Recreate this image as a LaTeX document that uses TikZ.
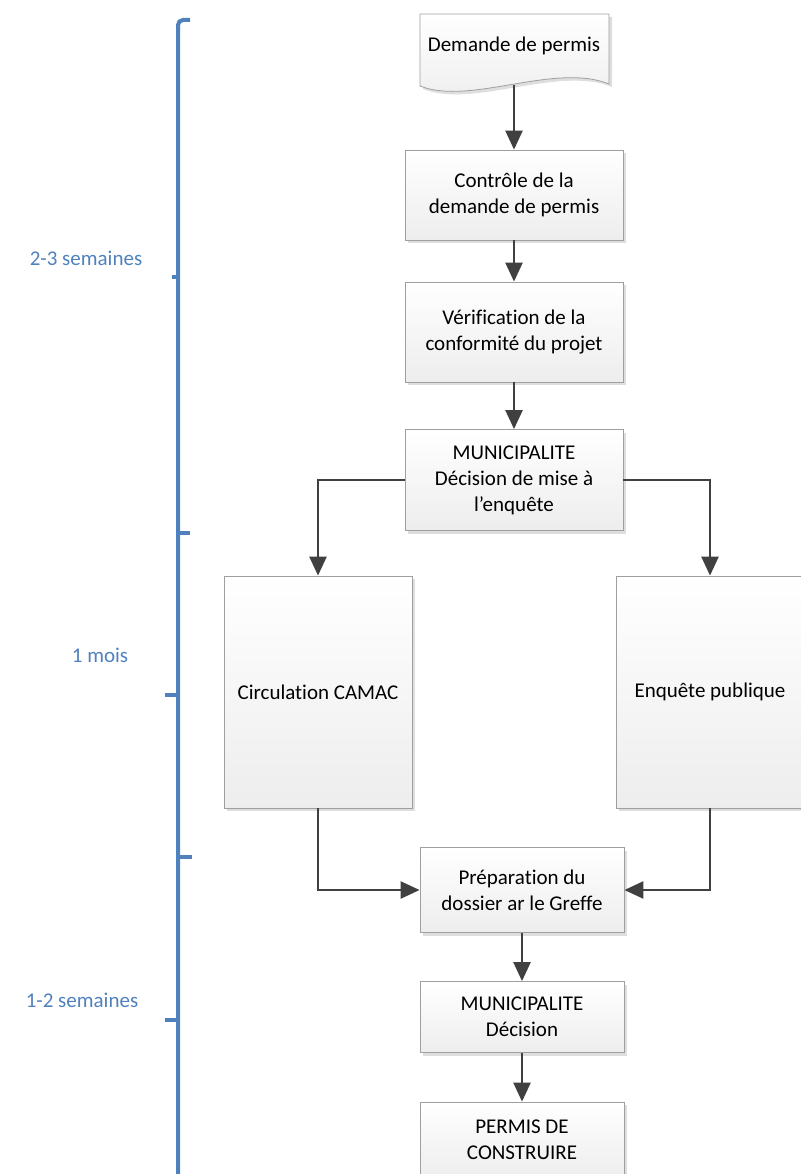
\documentclass[tikz,border=0pt]{standalone}
\usepackage{fontspec}
\setmainfont{Carlito}[Ligatures={CommonOff,ContextualOff}]
\usetikzlibrary{arrows.meta,shadows}
\definecolor{fristblau}{RGB}{79,129,189}
\definecolor{pfeilgrau}{RGB}{64,64,64}
\begin{document}
\begin{tikzpicture}[x=1pt,y=-1pt,
		schrift/.style={font=\fontsize{21}{26}\selectfont},
		flaeche/.style={draw=gray!75,line width=0.8pt,top color=white,bottom color=black!7,
			drop shadow={shadow xshift=3pt,shadow yshift=-3pt,fill=black!13,opacity=1}},
		kasten/.style={flaeche,schrift,inner sep=0pt,align=center},
		pfeil/.style={draw=pfeilgrau,line width=2.4pt,-{Triangle[width=17pt,length=19pt]}},
		frist/.style={draw=fristblau,line width=4pt},
		fristtext/.style={schrift,text=fristblau}]
		\useasboundingbox (0,0) rectangle (800,1174);
		% Dokument oben
		\draw[flaeche] (420,14) -- (609,14) -- (609,84) .. controls (555,62) and (470,106) .. (420,86) -- cycle;
		\node[schrift] (antrag) at (514,46) {Demande de permis};
		\coordinate (antragfuss) at (514,85);
		% Kaesten
		\foreach \name/\x/\y/\b/\h/\txt in {kontrolle/514/195/218/90/{Contrôle de la\\demande de permis},
				pruefung/514/332/218/100/{Vérification de la\\conformité du projet},
				muni/514/480/218/101/{MUNICIPALITE\\Décision de mise à\\l’enquête},
				circ/318/692/188/232/{Circulation CAMAC},
				enq/710/692/188/232/{Enquête publique},
				prep/522/890/204/85/{Préparation du\\dossier ar le Greffe},
				dec/522/1017/204/71/{MUNICIPALITE\\Décision},
				permis/522/1140/204/76/{PERMIS DE\\CONSTRUIRE}}
		\node[kasten,minimum width=\b pt,minimum height=\h pt] (\name) at (\x,\y) {\txt};
		% Pfeile
		\draw[pfeil] (antragfuss) -- (kontrolle.north);
		\foreach \a/\b in {kontrolle/pruefung,pruefung/muni,prep/dec,dec/permis}
		\draw[pfeil] (\a.south) -- (\b.north);
		\draw[pfeil] (muni.west) -| (circ.north);
		\draw[pfeil] (muni.east) -| (enq.north);
		\draw[pfeil] (circ.south) |- (prep.west);
		\draw[pfeil] (enq.south) |- (prep.east);
		% Fristen links
		\draw[frist,rounded corners=5pt] (190,20) -- (178,20) -- (178,1180);
		\foreach \y/\x in {533/190,857/192,277/172,695/165,1020/165}
		\draw[frist] (178,\y) -- (\x,\y);
		\node[fristtext] (frist1) at (86,258) {2-3 semaines};
		\node[fristtext] (frist2) at (100,655) {1 mois};
		\node[fristtext] (frist3) at (82,1000) {1-2 semaines};
	\end{tikzpicture}
\end{document}
